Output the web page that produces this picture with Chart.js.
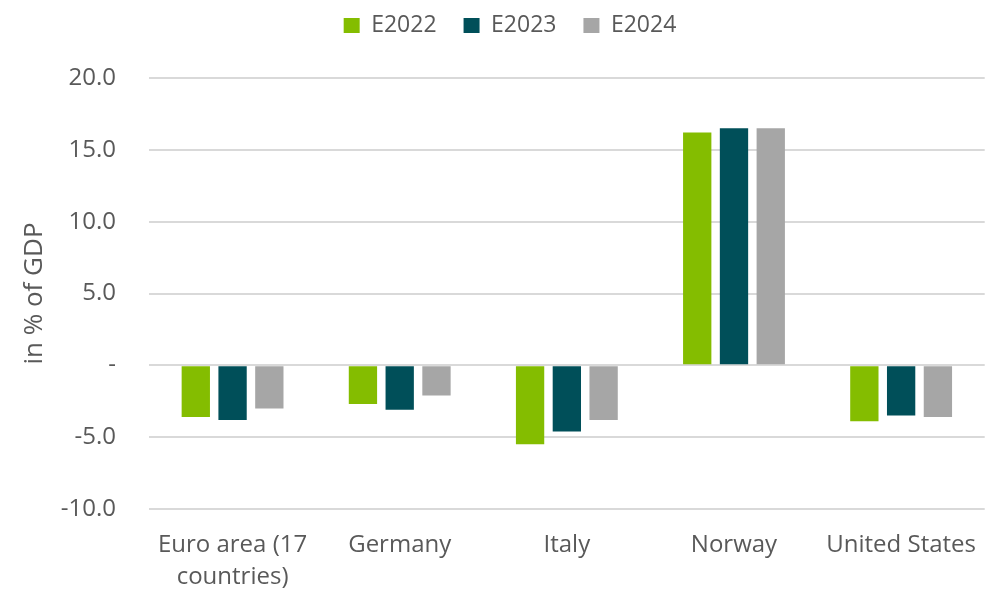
<!DOCTYPE html>
<html>
<head>
<meta charset="utf-8">
<script src="https://cdn.jsdelivr.net/npm/chart.js@4"></script>
<style>
  html,body{margin:0;padding:0;background:#fff;}
  #wrap{width:988px;height:591px;position:relative;}
</style>
</head>
<body>
<div id="wrap"><canvas id="myChart"></canvas></div>
<script>
const categories=[["Euro area (17","countries)"],"Germany","Italy","Norway","United States"];
const seriesNames=["E2022","E2023","E2024"];
const e2022=[-3.6,-2.7,-5.5,16.2,-3.9];
const e2023=[-3.8,-3.1,-4.6,16.5,-3.5];
const e2024=[-3.0,-2.1,-3.8,16.5,-3.6];
const colors=["#84BD00","#004F59","#A6A6A6"];
const yMin=-10, yMax=20, yStep=5;

const txt="#595959";
const font="'Open Sans', sans-serif";

// fix the legend block height so the plot top lands where it should
const legendHeight={
  id:'legendHeight',
  beforeInit(chart){
    const fit=chart.legend.fit;
    chart.legend.fit=function(){
      fit.bind(chart.legend)();
      this.height=91;
    };
  }
};

window.addEventListener('load',()=>{
  const ctx=document.getElementById('myChart');
  new Chart(ctx,{
    type:'bar',
    data:{
      labels:categories,
      datasets:[e2022,e2023,e2024].map((d,i)=>({
        label:seriesNames[i],
        data:d,
        backgroundColor:colors[i],
        borderWidth:0,
        barPercentage:0.77,
        categoryPercentage:0.66
      }))
    },
    plugins:[legendHeight],
    options:{
      responsive:true,
      maintainAspectRatio:false,
      animation:false,
      layout:{padding:{left:26,right:-6,top:-13,bottom:0}},
      plugins:{
        legend:{
          position:'top',
          labels:{
            color:txt,
            font:{family:font,size:23},
            boxWidth:16,
            boxHeight:15,
            padding:27
          }
        },
        tooltip:{enabled:false}
      },
      scales:{
        x:{
          grid:{display:false},
          border:{display:false},
          ticks:{color:txt,font:{family:font,size:24,lineHeight:1.33},maxRotation:0,padding:12},
          afterFit:(s)=>{s.height=82;}
        },
        y:{
          min:yMin,max:yMax,
          ticks:{
            stepSize:yStep,
            color:txt,
            font:{family:font,size:24},
            padding:33,
            callback:(v)=>v===0?"-":v.toFixed(1)
          },
          grid:{color:"#D9D9D9",lineWidth:2,drawTicks:false},
          border:{display:false},
          title:{display:true,text:"in % of GDP",color:txt,font:{family:font,size:26},padding:{top:-7,bottom:0}},
          afterFit:(s)=>{s.width=123;}
        }
      }
    }
  });
});
</script>
</body>
</html>
